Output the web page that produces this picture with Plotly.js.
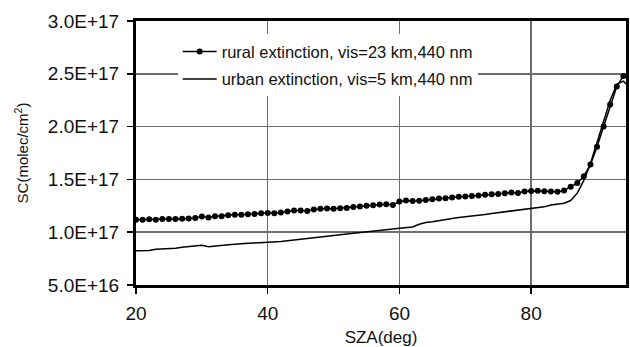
<!DOCTYPE html>
<html>
<head>
<meta charset="utf-8">
<script src="https://cdn.plot.ly/plotly-3.0.1.min.js"></script>
<style>html,body{margin:0;padding:0;background:#fff;}#chart{width:630px;height:347px;}</style>
</head>
<body>
<div id="chart"></div>
<script>
// Solar zenith angle (deg)
const szaRural = [20,21,22,23,24,25,26,27,28,29,30,31,32,33,34,35,36,37,38,39,40,41,42,43,44,45,46,47,48,49,50,51,52,53,54,55,56,57,58,59,60,61,62,63,64,65,66,67,68,69,70,71,72,73,74,75,76,77,78,79,80,81,82,83,84,85,86,87,88,89,90,91,92,93,94];
// rural extinction, vis=23 km, 440 nm  (units of 1E+17 molec/cm2)
const scRural = [1.117,1.118,1.122,1.118,1.124,1.126,1.125,1.128,1.130,1.135,1.148,1.140,1.150,1.152,1.160,1.165,1.166,1.170,1.172,1.180,1.182,1.180,1.186,1.196,1.205,1.206,1.200,1.215,1.222,1.225,1.222,1.226,1.228,1.238,1.244,1.250,1.256,1.262,1.264,1.258,1.290,1.300,1.295,1.298,1.305,1.312,1.318,1.322,1.328,1.335,1.338,1.342,1.348,1.355,1.360,1.362,1.370,1.375,1.372,1.385,1.390,1.392,1.388,1.386,1.384,1.395,1.430,1.465,1.530,1.640,1.810,2.000,2.210,2.380,2.480];
const szaUrban = [20,21,22,23,24,25,26,27,28,29,30,31,32,33,34,35,36,37,38,39,40,41,42,43,44,45,46,47,48,49,50,51,52,53,54,55,56,57,58,59,60,61,62,63,64,65,66,67,68,69,70,71,72,73,74,75,76,77,78,79,80,81,82,83,84,85,86,87,88,89,90,91,92,93,94,94.5];
// urban extinction, vis=5 km, 440 nm (units of 1E+17 molec/cm2)
const scUrban = [0.825,0.825,0.826,0.838,0.840,0.842,0.848,0.858,0.862,0.868,0.876,0.862,0.870,0.876,0.882,0.886,0.893,0.895,0.898,0.900,0.903,0.905,0.912,0.920,0.926,0.932,0.938,0.945,0.951,0.958,0.964,0.975,0.982,0.988,0.995,1.002,1.008,1.015,1.022,1.030,1.038,1.045,1.050,1.075,1.092,1.100,1.108,1.118,1.130,1.140,1.146,1.152,1.160,1.168,1.178,1.186,1.192,1.200,1.206,1.212,1.220,1.228,1.240,1.258,1.265,1.275,1.300,1.370,1.490,1.650,1.850,2.050,2.250,2.400,2.430,2.400];
const UNIT = 1e17;
const yTickVals = [0.5,1.0,1.5,2.0,2.5,3.0];
const yTickText = ['5.0E+16','1.0E+17','1.5E+17','2.0E+17','2.5E+17','3.0E+17'];
const xTickVals = [20,40,60,80];
const seriesNames = ['rural extinction, vis=23 km,440 nm','urban extinction, vis=5 km,440 nm'];

const FONT = 'Liberation Sans, Arial, sans-serif';
const traces = [
  {x: szaRural, y: scRural.map(v => v*UNIT), name: seriesNames[0], type: 'scatter', mode: 'lines+markers',
   line: {color: '#000', width: 1.5}, marker: {color: '#000', size: 6, symbol: 'circle'}, legendgroup: 'a'},
  {x: szaUrban, y: scUrban.map(v => v*UNIT), name: seriesNames[1], type: 'scatter', mode: 'lines',
   line: {color: '#000', width: 1.5}, legendgroup: 'b'}
];
const layout = {
  width: 630, height: 347,
  margin: {l: 136, r: 4, t: 21, b: 62},
  paper_bgcolor: '#fff', plot_bgcolor: '#fff',
  font: {family: FONT, color: '#111'},
  showlegend: true,
  legend: {x: 0.085, y: 0.95, xanchor: 'left', yanchor: 'top', bgcolor: '#fff', borderwidth: 0,
           font: {family: FONT, size: 16.5, color: '#111'}, tracegroupgap: 3, itemwidth: 34},
  xaxis: {range: [20, 94.4], tickvals: xTickVals, ticktext: xTickVals.map(String),
          showgrid: true, gridcolor: '#6e6e6e', gridwidth: 1.5, zeroline: false,
          showline: true, linecolor: '#000', linewidth: 3, mirror: true,
          ticks: 'outside', ticklen: 6, tickwidth: 1.5, tickcolor: '#000', ticklabelstandoff: 3,
          tickfont: {family: FONT, size: 19, color: '#111'},
          title: {text: 'SZA(deg)', font: {family: FONT, size: 17, color: '#111'}, standoff: 9}},
  yaxis: {range: [0.5*UNIT, 3.0*UNIT], tickvals: yTickVals.map(v => v*UNIT), ticktext: yTickText,
          showgrid: true, gridcolor: '#6e6e6e', gridwidth: 1.5, zeroline: false,
          showline: true, linecolor: '#000', linewidth: 3, mirror: true,
          ticks: 'outside', ticklen: 6, tickwidth: 1.5, tickcolor: '#000', ticklabelstandoff: 4,
          tickfont: {family: FONT, size: 19, color: '#111'},
          title: {text: 'SC(molec/cm<sup>2</sup>)', font: {family: FONT, size: 15, color: '#111'}, standoff: 16}}
};
Plotly.newPlot('chart', traces, layout, {staticPlot: true, displayModeBar: false});
</script>
</body>
</html>
